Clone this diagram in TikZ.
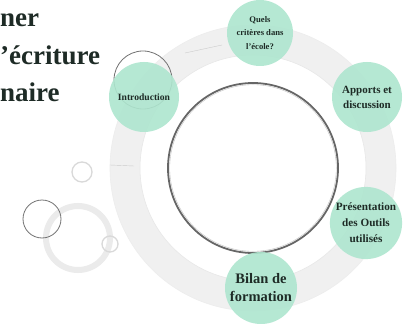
\documentclass[tikz,border=0pt]{standalone}
\usepackage{fontspec}
\setmainfont{Liberation Serif}
\definecolor{mint}{HTML}{AEE6CF}
\definecolor{ink}{HTML}{1E2B26}
\definecolor{band}{HTML}{F0F0F0}
\begin{document}
\begin{tikzpicture}[x=1pt,y=-1pt,
  topic/.style={circle,fill=mint,fill opacity=0.9,text opacity=1,text=ink,align=center,inner sep=0pt,font=\bfseries},
  title/.style={anchor=base west,inner sep=0pt,text=ink,font=\bfseries\fontsize{27}{30}\selectfont},
  deco/.style={draw=black!15,line width=1.3pt}]
\useasboundingbox (0,0) rectangle (411,323);
\fill[white] (0,0) rectangle (411,323);
% big grey band
\fill[band,even odd rule] (253,168) circle (143) (253,168) circle (113);
\draw[black!7,line width=0.6pt] (253,168) circle (143);
\draw[black!9,line width=0.6pt] (253,168) circle (113);
\draw[black!20,line width=0.4pt] (185,53) -- (222,45);
\draw[black!20,line width=0.4pt] (110,165) -- (134,166);
% inner ring
\draw[black!60,line width=1.8pt] (253,168) circle (85);
\draw[black!25,line width=0.4pt] (253,168) circle (83.3);
% left decorations
\draw[black!8,line width=6pt] (78,238) circle (32);
\draw[deco] (82,172) circle (10);
\draw[deco] (110,244) circle (8);
\draw[black!55,line width=0.8pt] (42,219) circle (19);
\draw[black!55,line width=0.8pt] (143,80) circle (29);
% title
\node[title] (t1) at (0,27) {ner};
\node[title] (t2) at (0,65) {'écriture};
\node[title] (t3) at (0,102) {naire};
% topic circles
\node[topic,minimum size=70pt,font=\bfseries\fontsize{9.6}{12}\selectfont] (intro) at (144,97) {Introduction};
\node[topic,minimum size=66pt,font=\bfseries\fontsize{8.6}{13.5}\selectfont] (quels) at (260,33) {Quels\\critères dans\\l'école?};
\node[topic,minimum size=70pt,font=\bfseries\fontsize{11}{15}\selectfont] (apports) at (367,97) {Apports et\\discussion};
\node[topic,minimum size=72pt,font=\bfseries\fontsize{11.2}{16}\selectfont] (pres) at (366,223) {Présentation\\des Outils\\utilisés};
\node[topic,minimum size=72pt,font=\bfseries\fontsize{14.5}{18}\selectfont] (bilan) at (261,288) {Bilan de\\formation};
\end{tikzpicture}
\end{document}
